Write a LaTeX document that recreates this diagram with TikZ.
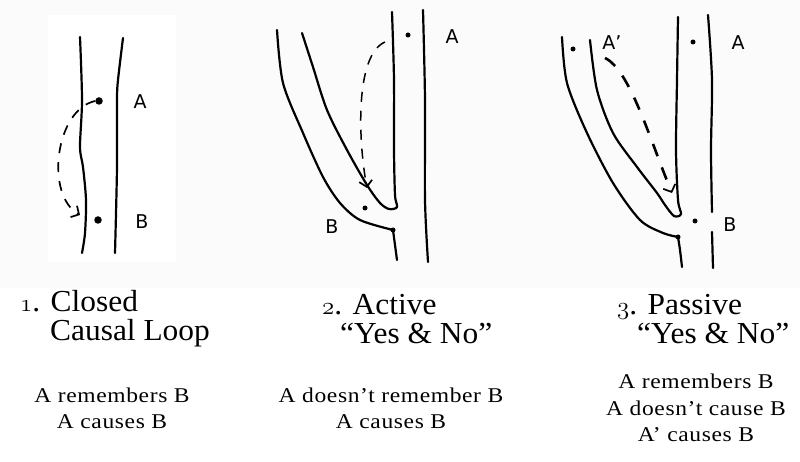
\documentclass[tikz,border=0pt]{standalone}
\usepackage{amsmath,amsfonts}
\usepackage{fontspec}
\usetikzlibrary{arrows.meta}
\newfontfamily\capfont{Liberation Serif}[FakeStretch=1.03]
\newfontfamily\notefont{Liberation Serif}[FakeStretch=1.12,LetterSpace=3.0]
\newfontfamily\handfont{DejaVu Sans}
\newcommand{\osn}[1]{{\usefont{OML}{cmm}{m}{it}#1}}
\begin{document}
\begin{tikzpicture}[x=1pt,y=-1pt]
      \tikzstyle{dot}=[circle,fill,inner sep=0pt,minimum width=5pt]
      \tikzstyle{hand}=[inner sep=0pt,font=\handfont\fontsize{19}{19}\selectfont]
      \tikzstyle{wline}=[line width=2.2pt,line cap=round,line join=round]
      \tikzstyle{causal}=[line width=1.7pt,dash pattern=on 10pt off 9pt,
        -{Straight Barb[length=6pt,width=13pt,line width=1.7pt]}]
      \tikzstyle{title}=[inner sep=0pt,anchor=base west,align=left,
        font=\capfont\fontsize{30.5}{29}\selectfont]
      \tikzstyle{note}=[inner sep=0pt,anchor=base,font=\notefont\fontsize{21}{21}\selectfont]
      % paper
      \fill[gray!3] (0,0) rectangle (800,462);
      \fill[white] (48,15) rectangle (176,262);
      \fill[white] (0,288) rectangle (800,462);
      % 1. closed loop
      \draw[wline] plot[smooth] coordinates {(80,37) (82,100) (80,147) (83,167) (86,200) (85,233) (82,253)};
      \draw[wline] plot[smooth] coordinates {(123,38) (118,80) (117,100) (117,167) (115,253)};
      % 2. active
      \draw[wline] plot[smooth,tension=0.5] coordinates {(423,10) (425,100) (425,200) (428,262)};
      \draw[wline] plot[smooth,tension=0.5] coordinates {(392,12) (394,80) (394,150) (395,195)
        (397,207) (389,209) (380,203) (367,185) (347,150) (327,110) (313,67) (302,33)};
      \draw[wline] plot[smooth,tension=0.5] coordinates {(277,30) (283,83) (303,133) (323,177)
        (340,203) (360,220) (393,230)};
      \draw[wline] plot[smooth] coordinates {(393,230) (395,245) (397,260)};
      % 3. passive
      \draw[wline] plot[smooth] coordinates {(708,15) (712,80) (711,150) (712,212)};
      \draw[wline] plot[smooth] coordinates {(712,232) (713,268)};
      \draw[wline] plot[smooth,tension=0.5] coordinates {(678,17) (677,80) (676,150) (678,200)
        (681,214) (674,216) (665,205) (657,193) (637,167) (613,133) (597,90) (590,40)};
      \draw[wline] plot[smooth,tension=0.5] coordinates {(562,37) (567,83) (587,133) (613,183)
        (640,220) (663,233) (678,237)};
      \draw[wline] plot[smooth] coordinates {(678,237) (680,250) (682,267)};
      % events
      \foreach \n/\x/\y in {a2/408/35,b2/365/208,j2/393/230,a3/693/42,p3/573/49,b3/695/221,j3/678/237}
        {\node[dot] (\n) at (\x,\y) {};}
      \node[dot,minimum width=7.5pt] (a1) at (99,101) {};
      \node[dot,minimum width=7.5pt] (b1) at (98,220) {};
      \foreach \n/\x/\y/\t in {la1/140/102/A,lb1/142/222/B,la2/452/37/A,lb2/332/227/B,
        la3/738/43/A,lp3/612/43/A’,lb3/730/225/B}
        {\node[hand] (\n) at (\x,\y) {\t};}
      % causal arrows
      \coordinate (t1) at (80,215);
      \coordinate (s2) at (385,42);
      \coordinate (t2) at (367,188);
      \coordinate (s3) at (605,58);
      \coordinate (t3) at (672,193);
      \draw[causal] (a1.west) .. controls (55,110) and (45,195) .. (t1);
      \draw[causal,line width=1.5pt] (s2) .. controls (355,55) and (358,140) .. (t2);
      \draw[causal,line width=2.6pt,dash pattern=on 13pt off 12pt] (s3) .. controls (630,70) and (650,140) .. (t3);
      % captions
      \node[title] (h1) at (20,340) {\osn{1}. Closed\\\hspace*{30pt}Causal Loop};
      \node[title] (h2) at (322,343) {\osn{2}. Active\\\hspace*{18pt}“Yes \& No”};
      \node[title] (h3) at (617,343) {\osn{3}. Passive\\\hspace*{20pt}“Yes \& No”};
      \foreach \n/\x/\y/\t in {n11/112/402/A remembers B,n12/112/428/A causes B,
        n21/391/402/A doesn’t remember B,n22/391/428/A causes B,
        n31/696/388/A remembers B,n32/696/415/A doesn’t cause B,n33/696/441/A’ causes B}
        {\node[note] (\n) at (\x,\y) {\t};}
\end{tikzpicture}
\end{document}
